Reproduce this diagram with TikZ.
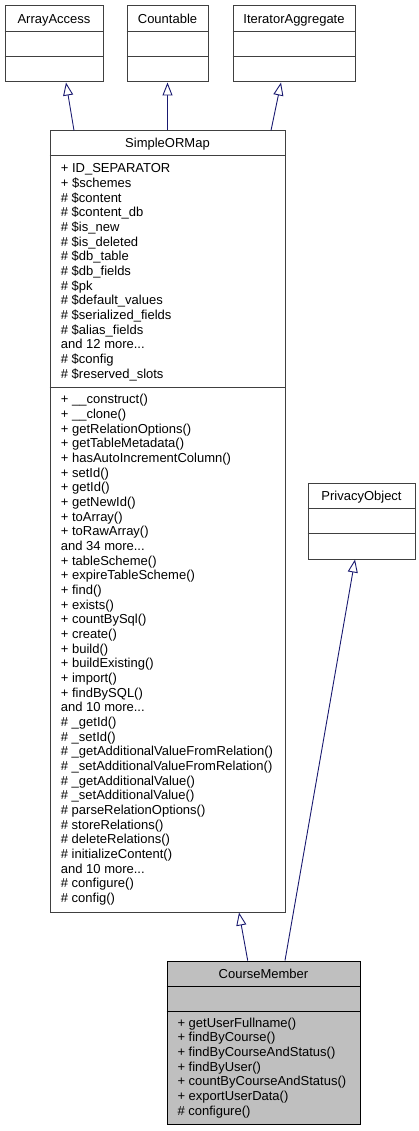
\documentclass[tikz,border=0pt]{standalone}
\usepackage{fontspec}
\setmainfont{Liberation Sans}
\usetikzlibrary{arrows.meta}
\definecolor{edgecol}{HTML}{191970}
\definecolor{framecol}{HTML}{404040}
\definecolor{cmfill}{HTML}{BFBFBF}
\newcommand{\tdots}{...}
\tikzset{
  cls/.style={draw=framecol, line width=1pt, rectangle, inner sep=0pt, fill=white},
  divider/.style={draw=framecol, line width=1pt},
  txt/.style={anchor=base west, inner sep=0pt, font=\fontsize{13}{15}\selectfont},
  ttl/.style={anchor=base, inner sep=0pt, font=\fontsize{13}{15}\selectfont},
  inh/.style={draw=edgecol, line width=0.9pt, -{Triangle[open, length=13pt, width=10pt, fill=white]}},
}
\begin{document}
\begin{tikzpicture}[x=1pt,y=-1pt]
\useasboundingbox (0,0) rectangle (418,1131);

% ArrayAccess
\node[cls, minimum width=98pt, minimum height=76pt] (aa) at (54,44) {};
\draw[divider] (aa.west |- 0,32) -- (aa.east |- 0,32);
\draw[divider] (aa.west |- 0,57) -- (aa.east |- 0,57);
\node[ttl] (aat) at (54,23.5) {ArrayAccess};

% Countable
\node[cls, minimum width=81pt, minimum height=76pt] (ct) at (167.5,44) {};
\draw[divider] (ct.west |- 0,32) -- (ct.east |- 0,32);
\draw[divider] (ct.west |- 0,57) -- (ct.east |- 0,57);
\node[ttl] (ctt) at (167.5,23.5) {Countable};

% IteratorAggregate
\node[cls, minimum width=122pt, minimum height=76pt] (ia) at (294,44) {};
\draw[divider] (ia.west |- 0,32) -- (ia.east |- 0,32);
\draw[divider] (ia.west |- 0,57) -- (ia.east |- 0,57);
\node[ttl] (iat) at (294,23.5) {IteratorAggregate};

% SimpleORMap
\node[cls, minimum width=235pt, minimum height=781pt] (so) at (167.5,521.5) {};
\draw[divider] (so.west |- 0,156) -- (so.east |- 0,156);
\draw[divider] (so.west |- 0,387) -- (so.east |- 0,387);
\node[ttl] (sot) at (167.5,148) {SimpleORMap};
\foreach \t [count=\i from 0] in {
  + ID\_SEPARATOR, + \$schemes, \# \$content, \# \$content\_db, \# \$is\_new,
  \# \$is\_deleted, \# \$db\_table, \# \$db\_fields, \# \$pk, \# \$default\_values,
  \# \$serialized\_fields, \# \$alias\_fields, and 12 more\tdots, \# \$config,
  \# \$reserved\_slots}
  \node[txt] (soa\i) at (60.7,{172.8+\i*14.67}) {\t};
\foreach \t [count=\i from 0] in {
  + \_\_construct(), + \_\_clone(), + getRelationOptions(), + getTableMetadata(),
  + hasAutoIncrementColumn(), + setId(), + getId(), + getNewId(), + toArray(),
  + toRawArray(), and 34 more\tdots, + tableScheme(), + expireTableScheme(),
  + find(), + exists(), + countBySql(), + create(), + build(), + buildExisting(),
  + import(), + findBySQL(), and 10 more\tdots, \# \_getId(), \# \_setId(),
  \# \_getAdditionalValueFromRelation(), \# \_setAdditionalValueFromRelation(),
  \# \_getAdditionalValue(), \# \_setAdditionalValue(), \# parseRelationOptions(),
  \# storeRelations(), \# deleteRelations(), \# initializeContent(),
  and 10 more\tdots, \# configure(), \# config()}
  \node[txt] (som\i) at (60.7,{403.8+\i*14.67}) {\t};

% PrivacyObject
\node[cls, minimum width=107pt, minimum height=76pt] (po) at (361.5,521) {};
\draw[divider] (po.west |- 0,508) -- (po.east |- 0,508);
\draw[divider] (po.west |- 0,533) -- (po.east |- 0,533);
\node[ttl] (pot) at (361.5,500) {PrivacyObject};

% CourseMember
\node[cls, draw=black, fill=cmfill, minimum width=193pt, minimum height=163pt] (cm) at (263.5,1042.5) {};
\draw[divider, draw=black] (cm.west |- 0,986) -- (cm.east |- 0,986);
\draw[divider, draw=black] (cm.west |- 0,1011) -- (cm.east |- 0,1011);
\node[ttl] (cmt) at (263.5,978) {CourseMember};
\foreach \t [count=\i from 0] in {
  + getUserFullname(), + findByCourse(), + findByCourseAndStatus(), + findByUser(),
  + countByCourseAndStatus(), + exportUserData(), \# configure()}
  \node[txt] (cmm\i) at (177.3,{1027.2+\i*14.67}) {\t};

% inheritance
\draw[inh] ([xshift=-93.5pt]so.north) -- ([xshift=12pt]aa.south);
\draw[inh] (so.north) -- (ct.south);
\draw[inh] ([xshift=103.5pt]so.north) -- ([xshift=-13pt]ia.south);
\draw[inh] ([xshift=-15.8pt]cm.north) -- ([xshift=71.5pt]so.south);
\draw[inh] ([xshift=21.5pt]cm.north) -- ([xshift=-6.5pt]po.south);
\end{tikzpicture}
\end{document}
